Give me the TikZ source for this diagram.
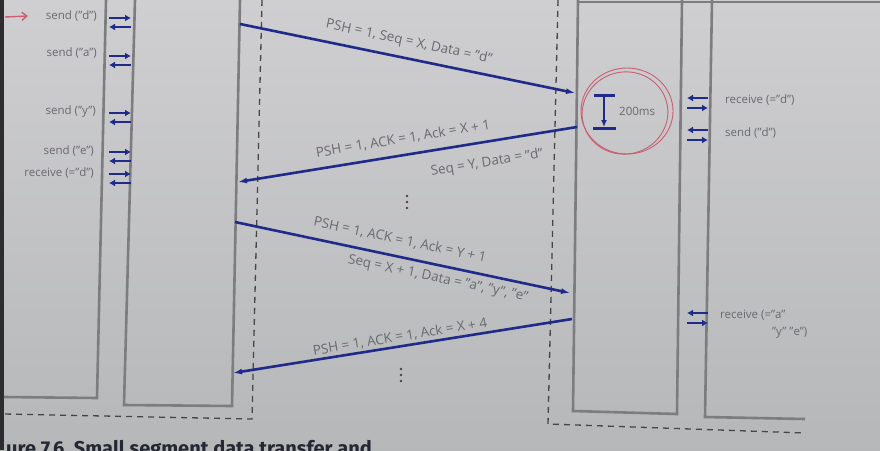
\documentclass[tikz,border=0pt]{standalone}
\usepackage{fontspec}
\setmainfont{Open Sans}
\newfontfamily\capfont{Fira Sans}
\usetikzlibrary{arrows.meta}
\definecolor{papertop}{RGB}{207,207,209}
\definecolor{paperbot}{RGB}{182,183,185}
\definecolor{strip}{RGB}{45,45,48}
\definecolor{boxgray}{RGB}{125,125,127}
\definecolor{dashgray}{RGB}{70,70,72}
\definecolor{segblue}{RGB}{32,42,138}
\definecolor{txtgray}{RGB}{105,105,110}
\definecolor{penred}{RGB}{200,95,115}
\definecolor{capcol}{RGB}{35,40,50}
\begin{document}
\begin{tikzpicture}[x=1pt,y=-1pt,
  boxline/.style={draw=boxgray,line width=2.6pt,line join=miter},
  dashline/.style={draw=dashgray,line width=1.3pt,dash pattern=on 6pt off 5pt},
  seg/.style={draw=segblue,line width=2.6pt,-{Latex[length=9pt,width=6pt]}},
  small/.style={draw=segblue,line width=2.3pt,-{Latex[length=6pt,width=7pt]}},
  lbl/.style={text=txtgray,font=\fontsize{13.5}{15}\selectfont,inner sep=0pt},
  side/.style={text=txtgray,font=\fontsize{11.5}{14}\selectfont,inner sep=0pt},
  dot/.style={fill=dashgray,draw=none},
  pen/.style={draw=penred,line width=0.9pt}]
\useasboundingbox (0,0) rectangle (880,450);
\shade[top color=papertop,bottom color=paperbot] (0,0) rectangle (880,450);
\fill[strip] (0,0) rectangle (4,450);

% boxes
\draw[boxline] (106,0) -- (97,398) -- (4,397);
\draw[boxline] (135,0) -- (124,405) -- (232,406) -- (240,0);
\draw[boxline] (578,0) -- (573,411) -- (677,414) -- (682,0);
\draw[boxline] (712,0) -- (705,417) -- (805,419);
\draw[draw=boxgray,line width=2pt] (578,2) -- (880,2);

% dashed frames
\draw[dashline] (262,0) -- (252,419) -- (4,414);
\draw[dashline] (558,0) -- (548,424) -- (805,433);

% segment end points
\coordinate (s1) at (240,24);  \coordinate (e1) at (575,93);
\coordinate (s2) at (577,127); \coordinate (e2) at (238,182);
\coordinate (s3) at (235,222); \coordinate (e3) at (570,293);
\coordinate (s4) at (572,319); \coordinate (e4) at (233,373);
\draw[seg] (s1) -- (e1);
\draw[seg] (s2) -- (e2);
\draw[seg] (s3) -- (e3);
\draw[seg] (s4) -- (e4);

% segment labels
\node[lbl,rotate=-12] (l1) at (409,42) {PSH = 1, Seq = X, Data = "d"};
\node[lbl,rotate=9.3] (l2a) at (403,139) {PSH = 1, ACK = 1, Ack = X + 1};
\node[lbl,rotate=9.3] (l2b) at (487,163) {Seq = Y, Data = "d"};
\node[lbl,rotate=-12] (l3a) at (400,240) {PSH = 1, ACK = 1, Ack = Y + 1};
\node[lbl,rotate=-12] (l3b) at (438,279) {Seq = X + 1, Data = "a", "y", "e"};
\node[lbl,rotate=9.3] (l4) at (400,337) {PSH = 1, ACK = 1, Ack = X + 4};

% vertical ellipses
\foreach \yy in {196,202,208} \fill[dot] (407,\yy) circle (1.4pt);
\foreach \yy in {369,375,381} \fill[dot] (401,\yy) circle (1.4pt);

% left application calls
\foreach \y/\t/\x in {16/{send ("d")}/97, 53/{send ("a")}/97, 112/{send ("y")}/96, 151/{send ("e")}/94, 173/{receive (="d")}/94}
  \node[side,anchor=east] at (\x,\y) {\t};
\foreach \y in {18,56,113,152,174}{
  \draw[small] (109,\y) -- (131,\y);
  \draw[small] (131,\y+9) -- (109,\y+9);
}

% right application calls
\foreach \y in {98,130,313}{
  \draw[small] (708,\y) -- (687,\y);
  \draw[small] (687,\y+10) -- (708,\y+10);
}
\node[side,anchor=west] (r1) at (725,100) {receive (="d")};
\node[side,anchor=west] (r2) at (725,133) {send ("d")};
\node[side,anchor=west] (r3) at (720,315) {receive (="a"};
\node[side,anchor=west] (r4) at (772,333) {"y" "e")};

% 200 ms delay marker
\coordinate (dt) at (604,95);
\coordinate (db) at (604,127);
\draw[draw=segblue,line width=3pt] (594,95) -- (615,95);
\draw[draw=segblue,line width=3pt] (593,128) -- (616,128);
\draw[draw=segblue,line width=2.2pt,-{Latex[length=7pt,width=6pt]}] (dt) -- (db);
\node[side,anchor=west] (ms) at (619,111) {200ms};
\draw[pen] (627,111) ellipse[x radius=46pt,y radius=43pt];
\draw[pen,rotate around={15:(625,113)}] (625,113) ellipse[x radius=43pt,y radius=41pt];

% red pen arrow
\coordinate (ra) at (5,17);
\coordinate (rb) at (28,16);
\draw[pen,line width=1.4pt,-{Straight Barb[length=5pt,width=8pt]}] (ra) -- (rb);

% caption (cut off by the page edge, as in the photo)
\node[anchor=base west,inner sep=0pt,text=capcol,font=\capfont\bfseries\fontsize{20}{24}\selectfont] (cap) at (6,455) {ure 7.6\ \ Small segment data transfer and};
\end{tikzpicture}
\end{document}
